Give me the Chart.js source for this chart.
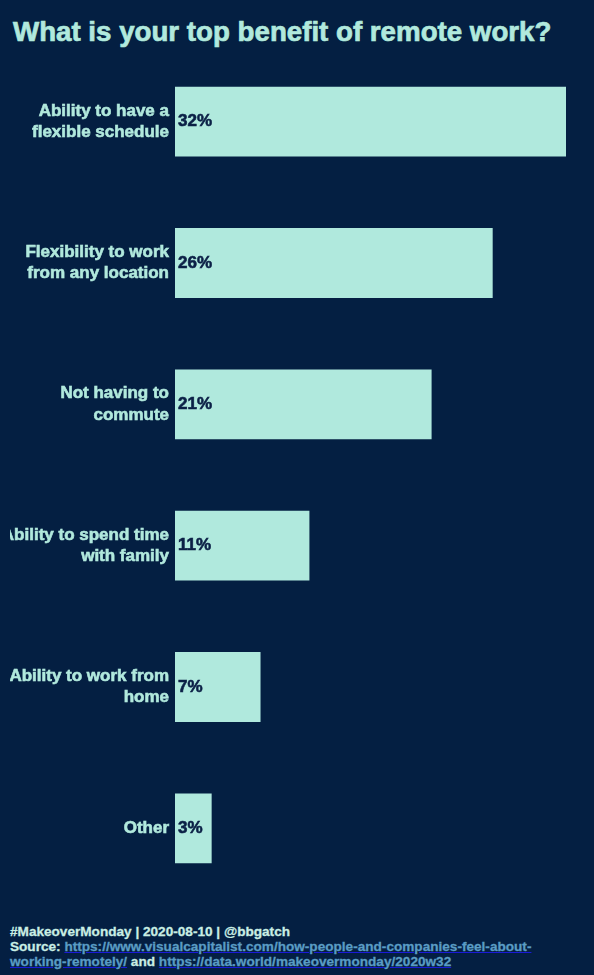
<!DOCTYPE html>
<html>
<head>
<meta charset="utf-8">
<script src="https://cdn.jsdelivr.net/npm/chart.js@4/dist/chart.umd.min.js"></script>
<style>
  html, body { margin:0; padding:0; background:#041f42; width:594px; height:975px; overflow:hidden; }
  body { position:relative; font-family:"Liberation Sans", Arial, sans-serif; }
  #title { position:absolute; left:13px; top:15.5px; margin:0; font-size:27.7px; line-height:32px; font-weight:bold; color:#b1e9dd; white-space:nowrap; -webkit-text-stroke:0.7px #b1e9dd; }
  #wrap { position:absolute; left:10px; top:51px; width:556px; height:850px; }
  #footer { position:absolute; left:10px; top:923.5px; font-size:13.6px; line-height:15px; font-weight:bold; color:#c9eee4; white-space:nowrap; -webkit-text-stroke:0.3px currentColor; }
  #footer a { color:#5a9cc4; text-decoration:underline; text-decoration-color:#1a1ad8; }
</style>
</head>
<body>
<h1 id="title">What is your top benefit of remote work?</h1>
<div id="wrap"><canvas id="c"></canvas></div>
<div id="footer">
#MakeoverMonday | 2020-08-10 | @bbgatch<br>
Source: <a href="#">https://www.visualcapitalist.com/how-people-and-companies-feel-about-</a><br><a href="#">working-remotely/</a> and <a href="#">https://data.world/makeovermonday/2020w32</a>
</div>
<script>
const categories = [
  ["Ability to have a", "flexible schedule"],
  ["Flexibility to work", "from any location"],
  ["Not having to", "commute"],
  ["Ability to spend time", "with family"],
  ["Ability to work from", "home"],
  ["Other"]
];
const values = [32, 26, 21, 11, 7, 3];

const barColor = "#b0e9dd";
const labelColor = "#b1e9dd";
const valueColor = "#0b2046";

const valueLabels = {
  id: "valueLabels",
  afterDatasetsDraw(chart) {
    const ctx = chart.ctx;
    const meta = chart.getDatasetMeta(0);
    ctx.save();
    ctx.font = "bold 17px 'Liberation Sans', Arial, sans-serif";
    ctx.fillStyle = valueColor;
    ctx.strokeStyle = valueColor;
    ctx.lineWidth = 0.6;
    ctx.textAlign = "left";
    ctx.textBaseline = "middle";
    meta.data.forEach((bar, i) => {
      ctx.fillText(values[i] + "%", bar.base + 3, bar.y);
      ctx.strokeText(values[i] + "%", bar.base + 3, bar.y);
    });
    ctx.restore();
  }
};

new Chart(document.getElementById("c"), {
  type: "bar",
  data: {
    labels: categories,
    datasets: [{
      data: values,
      backgroundColor: barColor,
      borderWidth: 0,
      barPercentage: 0.494,
      categoryPercentage: 1
    }]
  },
  options: {
    indexAxis: "y",
    responsive: true,
    maintainAspectRatio: false,
    animation: false,
    layout: { padding: { top: 0, bottom: 2 } },
    plugins: { legend: { display: false }, tooltip: { enabled: false } },
    scales: {
      x: { display: false, min: 0, max: Math.max(...values) },
      y: {
        grid: { display: false, drawTicks: false },
        border: { display: false },
        ticks: {
          color: labelColor,
          padding: 6,
          textStrokeColor: labelColor,
          textStrokeWidth: 0.6,
          font: { family: "'Liberation Sans', Arial, sans-serif", size: 17, weight: "bold", lineHeight: 1.24 }
        },
        afterFit(scale) {
          scale.width = 165;
          scale.paddingTop = 0;
          scale.paddingBottom = 0;
        }
      }
    }
  },
  plugins: [valueLabels]
});
</script>
</body>
</html>
